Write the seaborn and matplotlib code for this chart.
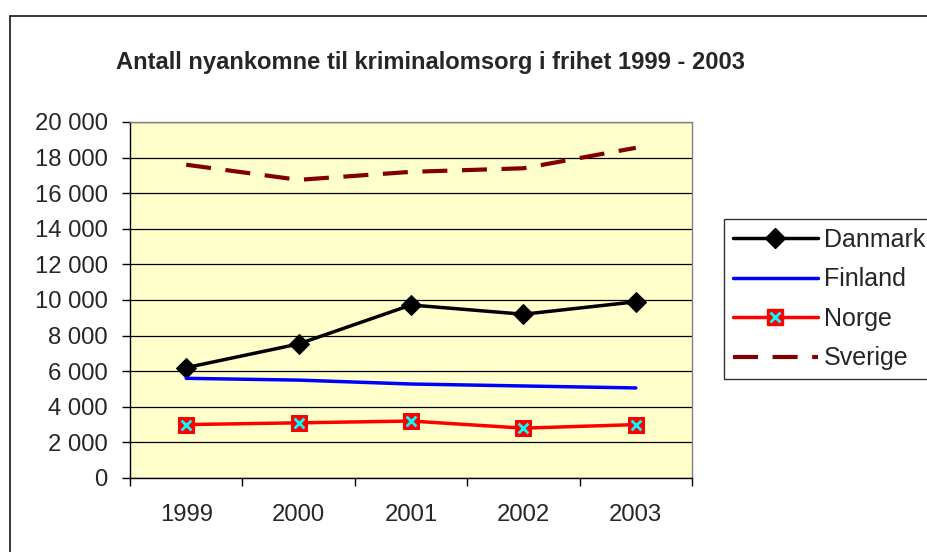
import pandas as pd
import seaborn as sns
import matplotlib.pyplot as plt
from matplotlib.lines import Line2D
from matplotlib.legend_handler import HandlerTuple
from matplotlib.ticker import FuncFormatter, MultipleLocator, FixedLocator

# data
years = [1999, 2000, 2001, 2002, 2003]
danmark = [6200, 7530, 9720, 9200, 9900]
finland = [5600, 5500, 5280, 5170, 5060]
norge = [3000, 3100, 3200, 2800, 3000]
sverige = [17600, 16750, 17200, 17400, 18550]

df = pd.DataFrame({'år': years, 'Danmark': danmark, 'Finland': finland,
                   'Norge': norge, 'Sverige': sverige})
df = df.melt(id_vars='år', var_name='land', value_name='antall')

sns.set_style("white")
plt.rcParams['font.family'] = ['Liberation Sans', 'DejaVu Sans']

fig = plt.figure(figsize=(9.28, 5.52), dpi=100)
ax = fig.add_axes([130/928, 1-478/552, 562/928, 356/552])
ax.set_facecolor('#FFFFCC')

lw = 2.5
sns.lineplot(data=df[df.land == 'Danmark'], x='år', y='antall', color='black',
             lw=lw, marker='D', markersize=10, markeredgecolor='black', ax=ax)
sns.lineplot(data=df[df.land == 'Finland'], x='år', y='antall', color='#0000FF',
             lw=lw, ax=ax)
sns.lineplot(data=df[df.land == 'Norge'], x='år', y='antall', color='#FF0000',
             lw=lw, marker='s', markersize=12, markerfacecolor='#FF0000',
             markeredgecolor='#FF0000', ax=ax)
sns.scatterplot(data=df[df.land == 'Norge'], x='år', y='antall', marker='x',
                color='#00FFFF', s=50, linewidth=2, ax=ax, zorder=5)
sns.lineplot(data=df[df.land == 'Sverige'], x='år', y='antall', color='#800000',
             lw=3, linestyle=(0, (6, 3.5)), ax=ax)

# axes
ax.set_xlim(1998.5, 2003.5)
ax.set_ylim(0, 20000)
ax.yaxis.set_major_locator(MultipleLocator(2000))
ax.yaxis.set_major_formatter(FuncFormatter(lambda v, p: f'{int(v):,}'.replace(',', ' ')))
ax.xaxis.set_major_locator(FixedLocator(years))
ax.xaxis.set_minor_locator(FixedLocator([y - 0.5 for y in years] + [2003.5]))
ax.set_xlabel('')
ax.set_ylabel('')
ax.tick_params(axis='y', left=True, direction='out', length=6, width=1,
               pad=10, labelsize=17.2, color='black')
ax.tick_params(axis='x', which='major', bottom=True, length=0, pad=19, labelsize=17.2)
ax.tick_params(axis='x', which='minor', bottom=True, direction='out', length=6,
               width=1, color='black')
ax.set_axisbelow(True)
ax.yaxis.grid(True, color='black', lw=0.9)
ax.xaxis.grid(False)
for s in ['left', 'bottom']:
    ax.spines[s].set_color('black')
    ax.spines[s].set_linewidth(1)
for s in ['top', 'right']:
    ax.spines[s].set_color('#808080')
    ax.spines[s].set_linewidth(1)

fig.text(431/928, 1-63/552, 'Antall nyankomne til kriminalomsorg i frihet 1999 - 2003',
         ha='center', va='center', fontsize=17.1, fontweight='bold')

# outer chart border
fig.add_artist(Line2D([10/928, 10/928], [0, 1-16/552], transform=fig.transFigure,
                      color='black', lw=1.1))
fig.add_artist(Line2D([10/928, 1], [1-16/552, 1-16/552], transform=fig.transFigure,
                      color='black', lw=1.1))

# legend
handles = [
    Line2D([], [], color='black', lw=lw, marker='D', markersize=10),
    Line2D([], [], color='#0000FF', lw=lw),
    (Line2D([], [], color='#FF0000', lw=lw, marker='s', markersize=12),
     Line2D([], [], ls='none', marker='x', color='#00FFFF', markersize=7, mew=2)),
    Line2D([], [], color='#800000', lw=3, linestyle=(0, (6, 3.5))),
]
labels = ['Danmark', 'Finland', 'Norge', 'Sverige']
leg = fig.legend(handles, labels, handler_map={tuple: HandlerTuple(ndivide=1)},
                 loc='upper left', bbox_to_anchor=(724/928, 1-219/552),
                 frameon=True, fancybox=False, edgecolor='black', fontsize=18,
                 handlelength=3.4, handletextpad=0.25, borderpad=0.35,
                 labelspacing=0.62, borderaxespad=0)
leg.get_frame().set_linewidth(1)

fig.savefig('out.png', dpi=100)
